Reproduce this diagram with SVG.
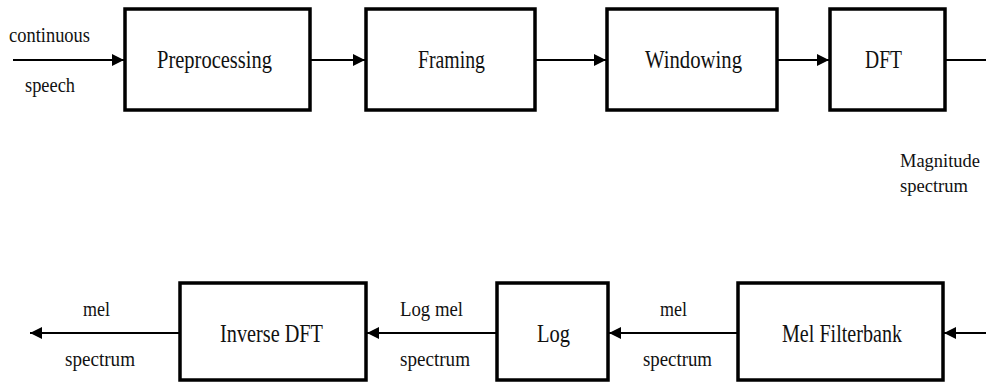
<svg xmlns="http://www.w3.org/2000/svg" width="986" height="385" viewBox="0 0 986 385">
<defs>
<marker id="ah" viewBox="0 0 12 12" refX="12" refY="6" markerWidth="12" markerHeight="12" markerUnits="userSpaceOnUse" orient="auto">
<path d="M0,0 L12,6 L0,12 z" fill="#000"/>
</marker>
<style>
.box{fill:#fff;stroke:#000;stroke-width:3.5}
.ln{stroke:#000;stroke-width:2;fill:none}
text{font-family:'Liberation Serif','Times New Roman','DejaVu Serif',serif;fill:#111}
.t{font-size:26px}
.s{font-size:21px}
.m{font-size:19px}
</style>
</defs>
<rect width="986" height="385" fill="#fff"/>
<g id="connectors">
<line class="ln" x1="13" y1="60" x2="124" y2="60" marker-end="url(#ah)"/>
<line class="ln" x1="310" y1="60" x2="365" y2="60" marker-end="url(#ah)"/>
<line class="ln" x1="535" y1="60" x2="606" y2="60" marker-end="url(#ah)"/>
<line class="ln" x1="777" y1="60" x2="829" y2="60" marker-end="url(#ah)"/>
<line class="ln" x1="945" y1="60" x2="986" y2="60"/>
<line class="ln" x1="986" y1="333" x2="944" y2="333" marker-end="url(#ah)"/>
<line class="ln" x1="738" y1="333" x2="609" y2="333" marker-end="url(#ah)"/>
<line class="ln" x1="497" y1="333" x2="367" y2="333" marker-end="url(#ah)"/>
<line class="ln" x1="180" y1="333" x2="30" y2="333" marker-end="url(#ah)"/>
<text class="s" x="9" y="42" textLength="81" lengthAdjust="spacingAndGlyphs">continuous</text>
<text class="s" x="25" y="92" textLength="50" lengthAdjust="spacingAndGlyphs">speech</text>
<text class="m" x="900" y="167" textLength="80" lengthAdjust="spacingAndGlyphs">Magnitude</text>
<text class="m" x="900" y="192" textLength="68" lengthAdjust="spacingAndGlyphs">spectrum</text>
<text class="s" x="83" y="316" textLength="27" lengthAdjust="spacingAndGlyphs">mel</text>
<text class="s" x="65" y="366" textLength="70" lengthAdjust="spacingAndGlyphs">spectrum</text>
<text class="s" x="400" y="316" textLength="63" lengthAdjust="spacingAndGlyphs">Log mel</text>
<text class="s" x="400" y="366" textLength="70" lengthAdjust="spacingAndGlyphs">spectrum</text>
<text class="s" x="660" y="316" textLength="27" lengthAdjust="spacingAndGlyphs">mel</text>
<text class="s" x="643" y="366" textLength="69" lengthAdjust="spacingAndGlyphs">spectrum</text>
</g>
<g id="preprocessing">
<rect class="box" x="125" y="9" width="185" height="101"/>
<text class="t" x="157" y="68" textLength="115" lengthAdjust="spacingAndGlyphs">Preprocessing</text>
</g>
<g id="framing">
<rect class="box" x="366" y="9" width="169" height="101"/>
<text class="t" x="418" y="68" textLength="67" lengthAdjust="spacingAndGlyphs">Framing</text>
</g>
<g id="windowing">
<rect class="box" x="607" y="9" width="170" height="101"/>
<text class="t" x="645" y="68" textLength="97" lengthAdjust="spacingAndGlyphs">Windowing</text>
</g>
<g id="dft">
<rect class="box" x="830" y="9" width="115" height="101"/>
<text class="t" x="865" y="68" textLength="37" lengthAdjust="spacingAndGlyphs">DFT</text>
</g>
<g id="inverse-dft">
<rect class="box" x="180" y="283" width="186" height="97"/>
<text class="t" x="220" y="342" textLength="103" lengthAdjust="spacingAndGlyphs">Inverse DFT</text>
</g>
<g id="log">
<rect class="box" x="497" y="283" width="111" height="97"/>
<text class="t" x="537" y="342" textLength="33" lengthAdjust="spacingAndGlyphs">Log</text>
</g>
<g id="mel-filterbank">
<rect class="box" x="738" y="283" width="205" height="97"/>
<text class="t" x="782" y="342" textLength="120" lengthAdjust="spacingAndGlyphs">Mel Filterbank</text>
</g>
</svg>
